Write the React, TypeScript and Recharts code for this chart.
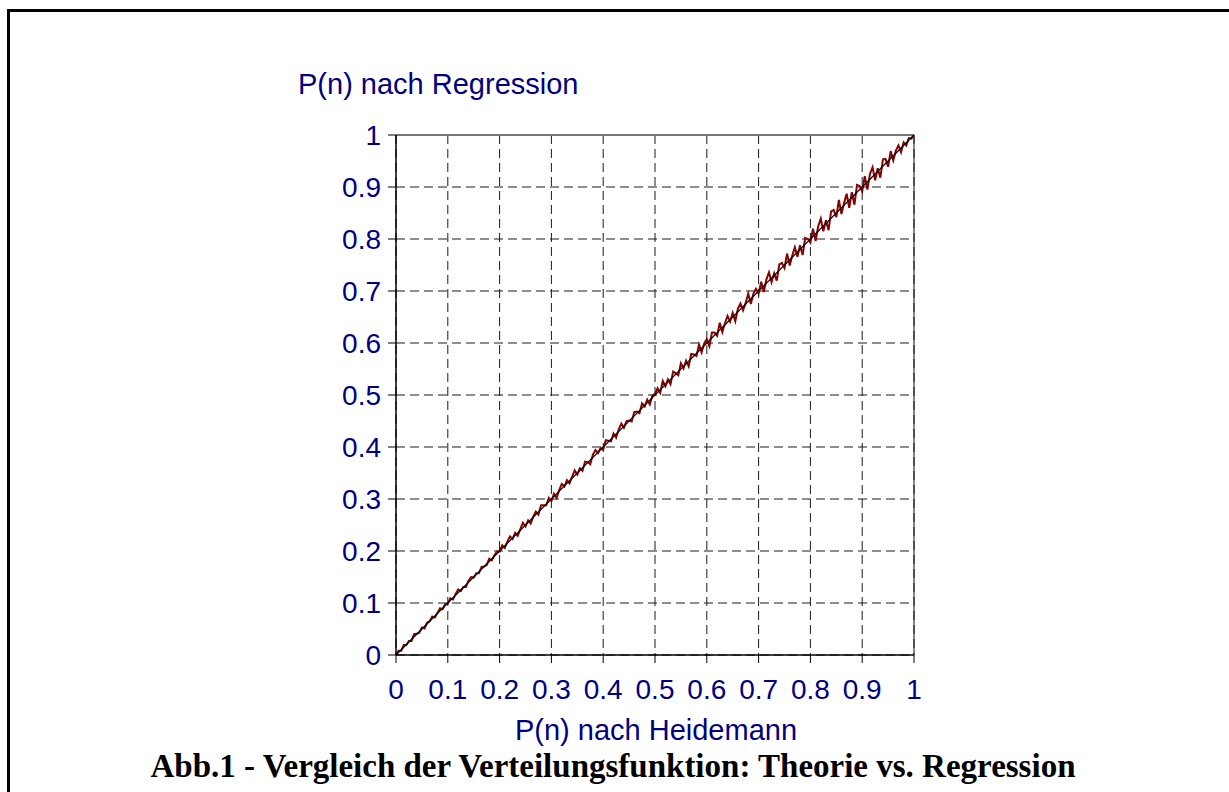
import { LineChart, Line, XAxis, YAxis, CartesianGrid, ReferenceLine } from 'recharts'

// P(n) nach Heidemann (x)
const heidemann = [
  0, 0.005, 0.01, 0.015, 0.02, 0.025, 0.03, 0.035, 0.04, 0.045,
  0.05, 0.055, 0.06, 0.065, 0.07, 0.075, 0.08, 0.085, 0.09, 0.095,
  0.1, 0.105, 0.11, 0.115, 0.12, 0.125, 0.13, 0.135, 0.14, 0.145,
  0.15, 0.155, 0.16, 0.165, 0.17, 0.175, 0.18, 0.185, 0.19, 0.195,
  0.2, 0.205, 0.21, 0.215, 0.22, 0.225, 0.23, 0.235, 0.24, 0.245,
  0.25, 0.255, 0.26, 0.265, 0.27, 0.275, 0.28, 0.285, 0.29, 0.295,
  0.3, 0.305, 0.31, 0.315, 0.32, 0.325, 0.33, 0.335, 0.34, 0.345,
  0.35, 0.355, 0.36, 0.365, 0.37, 0.375, 0.38, 0.385, 0.39, 0.395,
  0.4, 0.405, 0.41, 0.415, 0.42, 0.425, 0.43, 0.435, 0.44, 0.445,
  0.45, 0.455, 0.46, 0.465, 0.47, 0.475, 0.48, 0.485, 0.49, 0.495,
  0.5, 0.505, 0.51, 0.515, 0.52, 0.525, 0.53, 0.535, 0.54, 0.545,
  0.55, 0.555, 0.56, 0.565, 0.57, 0.575, 0.58, 0.585, 0.59, 0.595,
  0.6, 0.605, 0.61, 0.615, 0.62, 0.625, 0.63, 0.635, 0.64, 0.645,
  0.65, 0.655, 0.66, 0.665, 0.67, 0.675, 0.68, 0.685, 0.69, 0.695,
  0.7, 0.705, 0.71, 0.715, 0.72, 0.725, 0.73, 0.735, 0.74, 0.745,
  0.75, 0.755, 0.76, 0.765, 0.77, 0.775, 0.78, 0.785, 0.79, 0.795,
  0.8, 0.805, 0.81, 0.815, 0.82, 0.825, 0.83, 0.835, 0.84, 0.845,
  0.85, 0.855, 0.86, 0.865, 0.87, 0.875, 0.88, 0.885, 0.89, 0.895,
  0.9, 0.905, 0.91, 0.915, 0.92, 0.925, 0.93, 0.935, 0.94, 0.945,
  0.95, 0.955, 0.96, 0.965, 0.97, 0.975, 0.98, 0.985, 0.99, 0.995,
  1,
]

// P(n) nach Regression (y)
const regression = [
  0, 0.008, 0.008, 0.019, 0.019, 0.027, 0.027, 0.04, 0.041, 0.043,
  0.053, 0.051, 0.062, 0.065, 0.074, 0.072, 0.081, 0.09, 0.088, 0.098,
  0.099, 0.109, 0.107, 0.117, 0.126, 0.123, 0.131, 0.131, 0.143, 0.15,
  0.149, 0.157, 0.157, 0.169, 0.17, 0.173, 0.185, 0.182, 0.192, 0.199,
  0.199, 0.211, 0.206, 0.218, 0.228, 0.223, 0.235, 0.229, 0.242, 0.254,
  0.247, 0.259, 0.253, 0.266, 0.276, 0.27, 0.288, 0.288, 0.288, 0.302,
  0.296, 0.31, 0.302, 0.317, 0.329, 0.324, 0.336, 0.33, 0.343, 0.355,
  0.347, 0.359, 0.354, 0.372, 0.371, 0.367, 0.385, 0.394, 0.388, 0.398,
  0.395, 0.413, 0.412, 0.411, 0.426, 0.418, 0.434, 0.445, 0.437, 0.45,
  0.451, 0.449, 0.467, 0.468, 0.465, 0.484, 0.478, 0.491, 0.482, 0.499,
  0.502, 0.513, 0.504, 0.527, 0.517, 0.53, 0.521, 0.545, 0.542, 0.538,
  0.561, 0.551, 0.566, 0.555, 0.579, 0.578, 0.575, 0.597, 0.582, 0.599,
  0.607, 0.594, 0.62, 0.62, 0.614, 0.639, 0.621, 0.638, 0.652, 0.641,
  0.658, 0.642, 0.666, 0.676, 0.663, 0.677, 0.695, 0.675, 0.695, 0.704,
  0.695, 0.718, 0.698, 0.722, 0.736, 0.717, 0.734, 0.72, 0.751, 0.754,
  0.744, 0.772, 0.749, 0.768, 0.784, 0.766, 0.788, 0.769, 0.802, 0.8,
  0.793, 0.82, 0.796, 0.824, 0.839, 0.815, 0.836, 0.817, 0.853, 0.856,
  0.842, 0.875, 0.848, 0.869, 0.887, 0.86, 0.89, 0.866, 0.904, 0.902,
  0.891, 0.921, 0.895, 0.925, 0.938, 0.913, 0.936, 0.918, 0.953, 0.954,
  0.939, 0.969, 0.951, 0.97, 0.98, 0.967, 0.986, 0.98, 0.994, 0.993,
  1,
]

// theoretical curve: P_regression = P_heidemann
const theorieX = [0, 1]
const theorieY = [0, 1]

const ticks = [0, 0.1, 0.2, 0.3, 0.4, 0.5, 0.6, 0.7, 0.8, 0.9, 1]

const regressionData = heidemann.map((x, i) => ({ x, y: regression[i] }))
const theorieData = theorieX.map((x, i) => ({ x, y: theorieY[i] }))

const navy = '#000080'
const sans = '"Liberation Sans", Arial, sans-serif'

export default function App() {
  return (
    <div style={{ position: 'absolute', left: 0, top: 0, width: 1229, height: 792, background: '#fff', overflow: 'hidden' }}>
      <div style={{ position: 'absolute', left: 7, top: 9, width: 1300, height: 900, borderLeft: '3px solid #000', borderTop: '3px solid #000' }} />
      <LineChart
        width={1229}
        height={792}
        margin={{ top: 135, right: 315, bottom: 97, left: 336 }}
        style={{ position: 'absolute', left: 0, top: 0 }}
      >
        <CartesianGrid stroke="#1a1a1a" strokeDasharray="9 5" strokeWidth={1} />
        <XAxis
          type="number"
          dataKey="x"
          domain={[0, 1]}
          ticks={ticks}
          height={40}
          tickSize={8}
          tickMargin={16}
          tick={{ fill: navy, fontSize: 28, fontFamily: sans }}
          axisLine={{ stroke: '#000', strokeWidth: 1.5 }}
          tickLine={{ stroke: '#000' }}
        />
        <YAxis
          type="number"
          dataKey="y"
          domain={[0, 1]}
          ticks={ticks}
          width={60}
          tickSize={8}
          tickMargin={7}
          tick={{ fill: navy, fontSize: 28, fontFamily: sans }}
          axisLine={{ stroke: '#000', strokeWidth: 1.5 }}
          tickLine={{ stroke: '#000' }}
        />
        <ReferenceLine y={1} stroke="#777" strokeWidth={2} />
        <ReferenceLine x={1} stroke="#111" strokeWidth={1} />
        <Line
          data={regressionData}
          dataKey="y"
          type="linear"
          stroke="#8b0000"
          strokeWidth={2}
          dot={false}
          isAnimationActive={false}
        />
        <Line
          data={theorieData}
          dataKey="y"
          type="linear"
          stroke="#000"
          strokeWidth={1.2}
          dot={false}
          isAnimationActive={false}
        />
      </LineChart>
      <div style={{ position: 'absolute', left: 298, top: 68, fontFamily: sans, fontSize: 29, color: navy, whiteSpace: 'nowrap' }}>
        P(n) nach Regression
      </div>
      <div style={{ position: 'absolute', left: 356, width: 600, top: 714, textAlign: 'center', fontFamily: sans, fontSize: 29, color: navy }}>
        P(n) nach Heidemann
      </div>
      <div style={{ position: 'absolute', left: 0, width: 1226, top: 748, textAlign: 'center', fontFamily: '"Liberation Serif", "Times New Roman", serif', fontWeight: 'bold', fontSize: 33, color: '#000', whiteSpace: 'nowrap' }}>
        Abb.1 - Vergleich der Verteilungsfunktion: Theorie vs. Regression
      </div>
    </div>
  )
}
